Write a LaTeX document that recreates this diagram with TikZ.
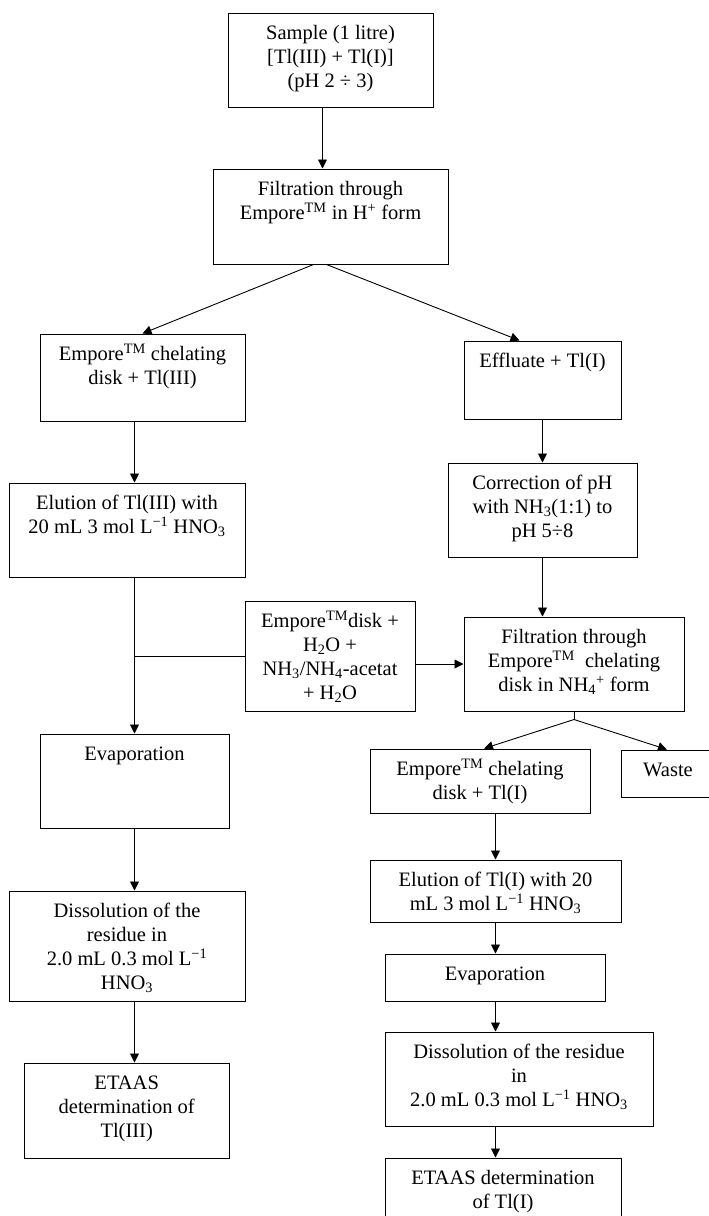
\documentclass[tikz,border=0pt]{standalone}
\usepackage{fontspec}
\setmainfont{Liberation Serif}
\usetikzlibrary{arrows.meta}
\newcommand{\tm}{\textsuperscript{TM}}
\newcommand{\fl}{\rule{0pt}{19pt}}
\tikzset{
  box/.style={draw, line width=1pt, inner sep=0pt},
  txt/.style={anchor=north, yshift=-8pt, inner sep=0pt, align=center,
    font=\fontsize{20.5}{24}\selectfont},
  arr/.style={line width=0.9pt, -{Triangle[length=9pt,width=9pt]}}
}

\begin{document}
\begin{tikzpicture}[x=1pt,y=-1pt]
			%%%%% START %%%%%
			\useasboundingbox (0,0) rectangle (709,1216);
			
			% top of the scheme
			\node[box, minimum width=205, minimum height=94] (sample) at (330.5,60) {};
			\node[txt] at (sample.north) {\fl Sample (1 litre)\\ {[}Tl(III) + Tl(I){]}\\ (pH 2 ÷ 3)};
			
			\node[box, minimum width=235, minimum height=95] (filt) at (330.5,216.5) {};
			\node[txt] at (filt.north) {\fl Filtration through\\ Empore\tm\ in H\textsuperscript{+} form};
			
			% left branch: Tl(III)
			\node[box, minimum width=205, minimum height=87] (chel) at (142.5,377.5) {};
			\node[txt] at (chel.north) {\fl Empore\tm\ chelating\\ disk + Tl(III)};
			
			\node[box, minimum width=236, minimum height=94] (elu) at (127,530) {};
			\node[txt] at (elu.north) {\fl Elution of Tl(III) with\\ 20 mL 3 mol L\textsuperscript{−1} HNO\textsubscript{3}};
			
			\node[box, minimum width=189, minimum height=94] (evap) at (134.5,781) {};
			\node[txt] at (evap.north) {\fl Evaporation};
			
			\node[box, minimum width=236, minimum height=110] (diss) at (127,946) {};
			\node[txt] at (diss.north) {\fl Dissolution of the\\ residue in\\ 2.0 mL 0.3 mol L\textsuperscript{−1}\\ HNO\textsubscript{3}};
			
			\node[box, minimum width=205, minimum height=95] (etaas) at (126.7,1110.5) {};
			\node[txt] at (etaas.north) {\fl ETAAS\\ determination of\\ Tl(III)};
			
			% middle: washing of the disk
			\node[box, minimum width=170, minimum height=110] (mix) at (330,656) {};
			\node[txt] at (mix.north) {\fl Empore\tm disk +\\ H\textsubscript{2}O +\\ NH\textsubscript{3}/NH\textsubscript{4}-acetat\\ + H\textsubscript{2}O};
			
			% right branch: Tl(I)
			\node[box, minimum width=157, minimum height=78] (eff) at (542.5,380) {};
			\node[txt] at (eff.north) {\fl Effluate + Tl(I)};
			
			\node[box, minimum width=189, minimum height=94] (corr) at (542.5,510) {};
			\node[txt] at (corr.north) {\fl Correction of pH\\ with NH\textsubscript{3}(1:1) to\\ pH 5÷8};
			
			\node[box, minimum width=220, minimum height=94] (filt2) at (574,664) {};
			\node[txt] at (filt2.north) {\fl Filtration through\\ Empore\tm\ \ chelating\\ disk in NH\textsubscript{4}\textsuperscript{+} form};
			
			\node[box, minimum width=220, minimum height=64] (chel2) at (480,781) {};
			\node[txt] at (chel2.north) {\fl Empore\tm\ chelating\\ disk + Tl(I)};
			
			\node[box, minimum width=94, minimum height=47] (waste) at (668,773.5) {};
			\node[txt] at (waste.north) {\fl Waste};
			
			\node[box, minimum width=251, minimum height=62] (elu2) at (495.5,891) {};
			\node[txt] at (elu2.north) {\fl Elution of Tl(I) with 20\\ mL 3 mol L\textsuperscript{−1} HNO\textsubscript{3}};
			
			\node[box, minimum width=220, minimum height=47] (evap2) at (495,977.5) {};
			\node[txt] at (evap2.north) {\fl Evaporation};
			
			\node[box, minimum width=268, minimum height=94] (diss2) at (519,1079) {};
			\node[txt] at (diss2.north) {\fl Dissolution of the residue\\ in\\ 2.0 mL 0.3 mol L\textsuperscript{−1} HNO\textsubscript{3}};
			
			\node[box, minimum width=236, minimum height=72] (etaas2) at (503,1194) {};
			\node[txt] at (etaas2.north) {\fl ETAAS determination\\ of Tl(I)};
			
			% connectors
			\draw[arr] ([xshift=-8pt]sample.south) -- ([xshift=-8pt]filt.north);
			\draw[arr] ([xshift=-17pt]filt.south) -- (chel.north);
			\draw[arr] ([xshift=-4pt]filt.south) -- ([xshift=-23pt]eff.north);
			
			\draw[arr] (chel.south -| evap.north) -- (elu.north -| evap.north);
			\draw[arr] (elu.south -| evap.north) -- (evap.north);
			\draw[line width=0.9pt] (mix.west) -- (mix.west -| evap.north);
			\draw[arr] (evap.south) -- (diss.north -| evap.south);
			\draw[arr] (diss.south -| evap.south) -- (etaas.north -| evap.south);
			
			\draw[arr] (eff.south) -- (corr.north);
			\draw[arr] (corr.south) -- (corr.south |- filt2.north);
			\draw[arr] (mix.east |- filt2.west) -- (filt2.west);
			
			\coordinate (fork) at ([yshift=-8pt]filt2.south);
			\draw[line width=0.9pt] (filt2.south) -- (fork);
			\draw[arr] (fork) -- ([xshift=4pt]chel2.north);
			\draw[arr] (fork) -- ([xshift=-1pt]waste.north);
			
			\draw[arr] (chel2.south -| elu2.north) -- (elu2.north);
			\draw[arr] (elu2.south) -- (evap2.north -| elu2.south);
			\draw[arr] (evap2.south -| elu2.south) -- (diss2.north -| elu2.south);
			\draw[arr] (diss2.south -| elu2.south) -- (etaas2.north -| elu2.south);
			%%%%% END %%%%%
\end{tikzpicture}
\end{document}
